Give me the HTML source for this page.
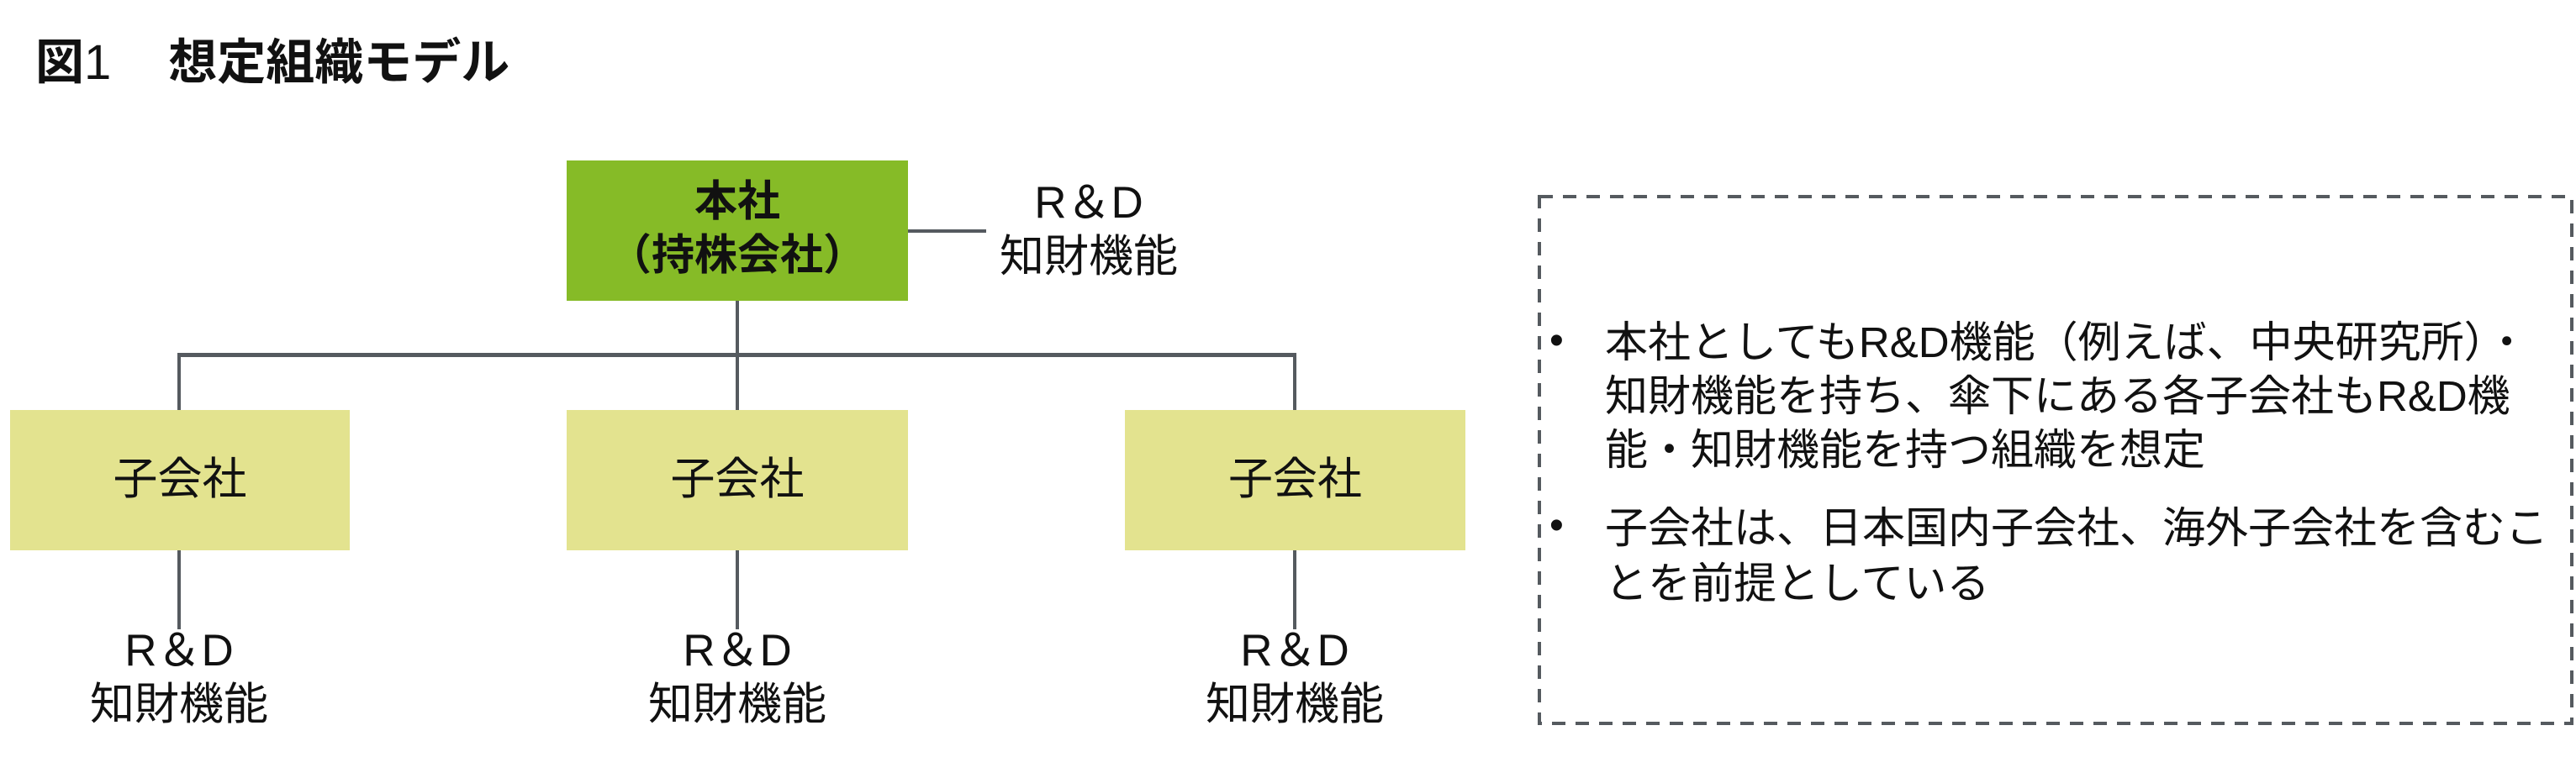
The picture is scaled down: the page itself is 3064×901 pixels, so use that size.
<!DOCTYPE html>
<html><head><meta charset="utf-8"><style>
html,body{margin:0;padding:0;background:#fff;}
body{width:3064px;height:901px;position:relative;overflow:hidden;font-family:"Liberation Sans","Noto Sans CJK JP",sans-serif;color:#111;}
.a{position:absolute;}
.t{position:absolute;text-align:center;white-space:nowrap;line-height:1;}
.ln{position:absolute;background:#555a5f;}
.box{position:absolute;}
</style></head><body>
<div class="a" style="left:42px;top:46px;font-size:58px;font-weight:bold;white-space:nowrap;line-height:1;">図<span style="font-weight:normal">1</span><span style="display:inline-block;width:68px"></span>想定組織モデル</div>

<div class="box" style="left:674px;top:191px;width:406px;height:167px;background:#86bb27;"></div>
<div class="t" style="left:674px;width:406px;top:214px;font-size:51px;font-weight:bold;">本社</div>
<div class="t" style="left:674px;width:406px;top:278px;font-size:51px;font-weight:bold;">（持株会社）</div>

<div class="ln" style="left:1080px;top:273px;width:93px;height:4px;"></div>
<div class="t" style="left:1170px;width:250px;top:215px;font-size:53px;">R＆D</div>
<div class="t" style="left:1170px;width:250px;top:279px;font-size:53px;">知財機能</div>

<div class="ln" style="left:875px;top:358px;width:4px;height:132px;"></div>
<div class="ln" style="left:211px;top:420px;width:1331px;height:5px;"></div>
<div class="ln" style="left:211px;top:420px;width:4px;height:70px;"></div>
<div class="ln" style="left:1538px;top:420px;width:4px;height:70px;"></div>

<div class="box" style="left:12px;top:488px;width:404px;height:167px;background:#e3e38f;"></div>
<div class="box" style="left:674px;top:488px;width:406px;height:167px;background:#e3e38f;"></div>
<div class="box" style="left:1338px;top:488px;width:405px;height:167px;background:#e3e38f;"></div>
<div class="t" style="left:12px;width:404px;top:544px;font-size:53px;">子会社</div>
<div class="t" style="left:674px;width:406px;top:544px;font-size:53px;">子会社</div>
<div class="t" style="left:1338px;width:405px;top:544px;font-size:53px;">子会社</div>

<div class="ln" style="left:211px;top:655px;width:4px;height:94px;"></div>
<div class="ln" style="left:875px;top:655px;width:4px;height:94px;"></div>
<div class="ln" style="left:1538px;top:655px;width:4px;height:94px;"></div>

<div class="t" style="left:88px;width:250px;top:748px;font-size:53px;">R＆D</div>
<div class="t" style="left:88px;width:250px;top:812px;font-size:53px;">知財機能</div>
<div class="t" style="left:752px;width:250px;top:748px;font-size:53px;">R＆D</div>
<div class="t" style="left:752px;width:250px;top:812px;font-size:53px;">知財機能</div>
<div class="t" style="left:1415px;width:250px;top:748px;font-size:53px;">R＆D</div>
<div class="t" style="left:1415px;width:250px;top:812px;font-size:53px;">知財機能</div>

<svg class="a" style="left:0;top:0" width="3064" height="901">
<rect x="1831" y="234" width="1228" height="627" fill="none" stroke="#555a5f" stroke-width="4" stroke-dasharray="16,12"/>
</svg>

<div class="a" style="left:1843px;top:382px;font-size:48px;line-height:1;">•</div>
<div class="a" style="left:1843px;top:602px;font-size:48px;line-height:1;">•</div>
<div class="a" style="left:1909px;top:376px;font-size:51px;line-height:64px;white-space:nowrap;">本社としてもR&amp;D機能（例えば、中央研究所）・<br>知財機能を持ち、傘下にある各子会社もR&amp;D機<br>能・知財機能を持つ組織を想定</div>
<div class="a" style="left:1909px;top:596px;font-size:51px;line-height:66px;white-space:nowrap;">子会社は、日本国内子会社、海外子会社を含むこ<br>とを前提としている</div>
</body></html>
